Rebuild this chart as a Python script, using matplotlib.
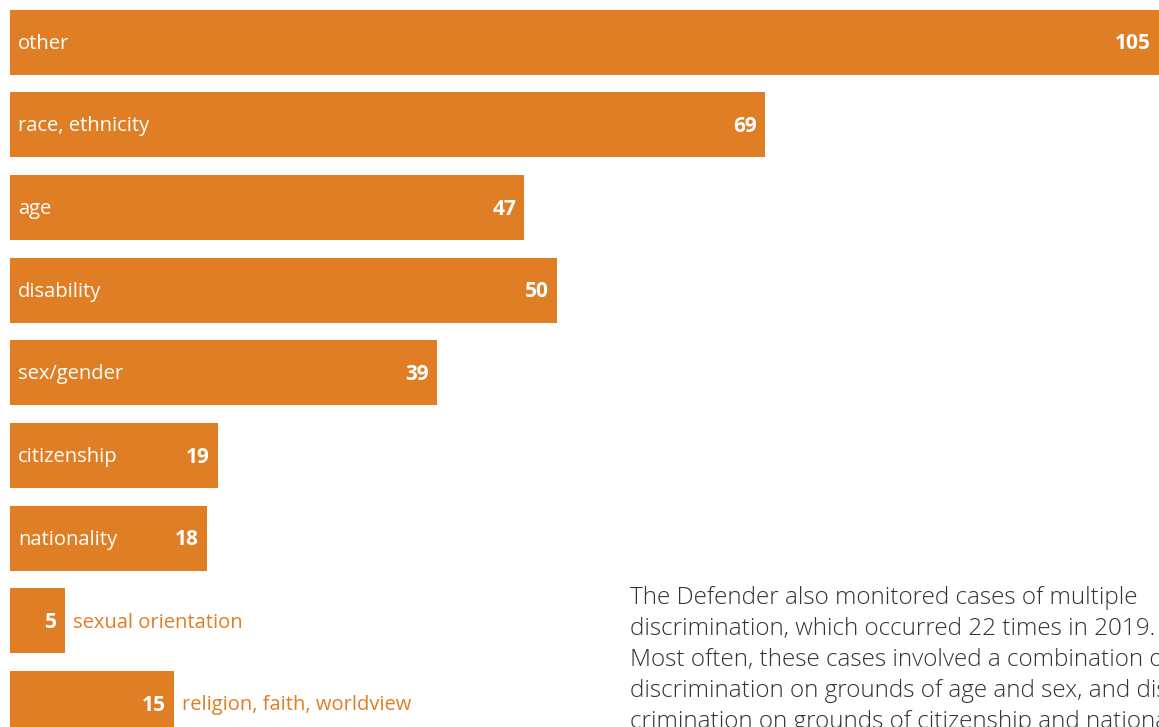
import matplotlib.pyplot as plt

categories = ['other', 'race, ethnicity', 'age', 'disability', 'sex/gender',
              'citizenship', 'nationality', 'sexual orientation',
              'religion, faith, worldview']
values = [105, 69, 47, 50, 39, 19, 18, 5, 15]
# short bars get their name written outside, to the right
outside = [False, False, False, False, False, False, False, True, True]

paragraph = [
    'The Defender also monitored cases of multiple',
    'discrimination, which occurred 22 times in 2019.',
    'Most often, these cases involved a combination of',
    'discrimination on grounds of age and sex, and dis-',
    'crimination on grounds of citizenship and nationality.',
]

orange = '#e07e25'
plt.rcParams['font.family'] = ['Open Sans', 'DejaVu Sans']

fig = plt.figure(figsize=(11.59, 7.27), dpi=100)
ax = fig.add_axes([0, 0, 1, 1])

ypos = list(range(len(categories)))
ax.barh(ypos, values, height=0.786, color=orange, left=0)

ax.set_xlim(-0.914, 105)
ax.set_ylim(8.283, -0.508)
ax.axis('off')

px = 105.914 / 1159  # data units per pixel along x

for y, name, v, out in zip(ypos, categories, values, outside):
    ax.text(v - 8 * px, y + 0.02, str(v), ha='right', va='center', color='white',
            fontsize=15, fontweight='bold')
    if out:
        ax.text(v + 8 * px, y + 0.02, name, ha='left', va='center', color=orange,
                fontsize=14.5)
    else:
        ax.text(8 * px, y + 0.02, name, ha='left', va='center', color='white',
                fontsize=14.5)

for i, line in enumerate(paragraph):
    fig.text(630 / 1159, 1 - (598 + i * 31) / 727, line, ha='left', va='center',
             color='#333333', fontsize=17.5, fontweight='light')

fig.savefig('out.png', dpi=100)
